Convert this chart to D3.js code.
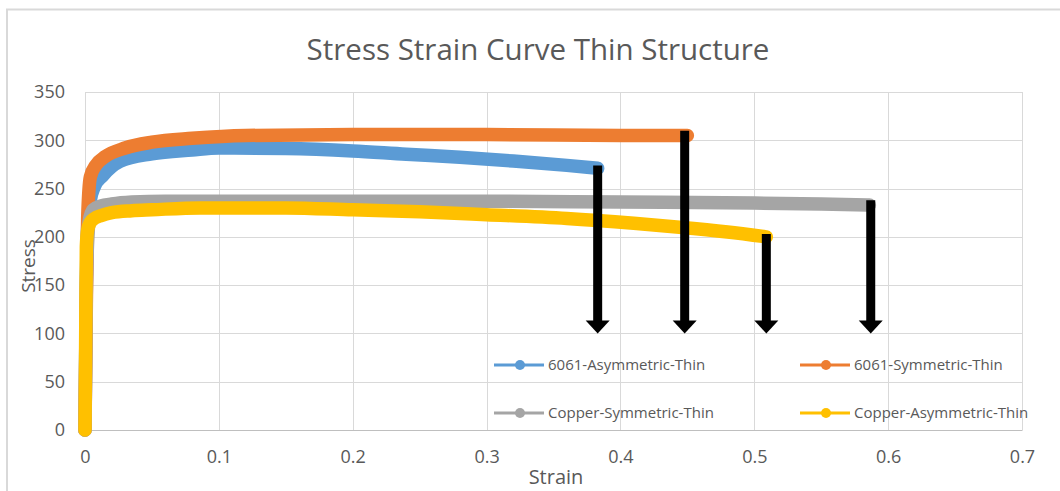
<!DOCTYPE html>
<html>
<head>
<meta charset="utf-8">
<script src="https://cdn.jsdelivr.net/npm/d3@7"></script>
<style>
  body { margin: 0; background: #fff; }
  text { font-family: "Open Sans", sans-serif; fill: #595959; }
</style>
</head>
<body>
<div id="chart"></div>
<script>
// series data
const seriesNames = ["6061-Asymmetric-Thin", "6061-Symmetric-Thin", "Copper-Symmetric-Thin", "Copper-Asymmetric-Thin"];
const seriesColors = ["#5B9BD5", "#ED7D31", "#A5A5A5", "#FFC000"];

const strainBlue = [0, 0.001, 0.002, 0.004, 0.007, 0.013, 0.026, 0.05, 0.08, 0.1, 0.15, 0.2, 0.24, 0.28, 0.32, 0.36, 0.383];
const stressBlue = [0, 150, 210, 238, 252, 263, 278, 286, 290, 292, 291.5, 289, 285.5, 282.5, 278.5, 274, 271];

const strainOrange = [0, 0.001, 0.002, 0.004, 0.008, 0.015, 0.03, 0.05, 0.08, 0.12, 0.2, 0.3, 0.4, 0.45];
const stressOrange = [0, 130, 220, 262, 274, 283, 292, 298, 302, 305, 306, 306, 305, 305];

const strainGray = [0, 0.001, 0.003, 0.006, 0.012, 0.02, 0.035, 0.06, 0.1, 0.2, 0.3, 0.4, 0.5, 0.55, 0.586];
const stressGray = [0, 150, 215, 228, 232, 234, 236, 237, 237, 237, 237, 236, 235, 234, 233];

const strainYellow = [0, 0.001, 0.002, 0.004, 0.007, 0.012, 0.02, 0.035, 0.05, 0.086, 0.15, 0.2, 0.25, 0.3, 0.36, 0.41, 0.444, 0.48, 0.509];
const stressYellow = [0, 190, 207, 215, 219, 222, 225, 227, 228, 230, 230, 228, 226, 223, 219, 214, 210, 205, 200];

// fracture arrows
const arrowStrain = [0.383, 0.448, 0.509, 0.587];
const arrowFrom = [274, 310, 203, 238];
const arrowTo = [100, 100, 100, 100];

const xTicks = [0, 0.1, 0.2, 0.3, 0.4, 0.5, 0.6, 0.7];
const yTicks = [0, 50, 100, 150, 200, 250, 300, 350];

const width = 1060, height = 491;
const plot = {left: 85, right: 1022, top: 92, bottom: 430};

const svg = d3.select("#chart").append("svg")
    .attr("width", width)
    .attr("height", height);

// chart frame
svg.append("rect")
    .attr("x", 7).attr("y", 9.5)
    .attr("width", 1100).attr("height", 1000)
    .attr("fill", "none")
    .attr("stroke", "#d9d9d9")
    .attr("stroke-width", 2);

const xScale = d3.scaleLinear().domain([0, 0.7]).range([plot.left, plot.right]);
const yScale = d3.scaleLinear().domain([0, 350]).range([plot.bottom, plot.top]);

// gridlines
svg.append("g")
    .selectAll("line")
    .data(yTicks.slice(1))
    .enter().append("line")
    .attr("x1", plot.left).attr("x2", plot.right)
    .attr("y1", d => Math.round(yScale(d)) + 0.5)
    .attr("y2", d => Math.round(yScale(d)) + 0.5)
    .attr("stroke", "#d9d9d9");

svg.append("g")
    .selectAll("line")
    .data(xTicks)
    .enter().append("line")
    .attr("y1", plot.top).attr("y2", plot.bottom)
    .attr("x1", d => Math.round(xScale(d)) + 0.5)
    .attr("x2", d => Math.round(xScale(d)) + 0.5)
    .attr("stroke", "#d9d9d9");

// axes
const xAxis = d3.axisBottom(xScale).tickValues(xTicks).tickSize(0).tickPadding(20).tickFormat(d => d);
const yAxis = d3.axisLeft(yScale).tickValues(yTicks).tickSize(0).tickPadding(20);

svg.append("g")
    .attr("transform", `translate(0,${plot.bottom})`)
    .call(xAxis)
    .call(g => g.select(".domain").attr("stroke", "#bfbfbf"))
    .call(g => g.selectAll("text").attr("fill", "#595959").style("font-size", "18px").attr("font-family", null));

svg.append("g")
    .attr("transform", `translate(${plot.left},0)`)
    .call(yAxis)
    .call(g => g.select(".domain").remove())
    .call(g => g.selectAll("text").attr("fill", "#595959").style("font-size", "18px").attr("font-family", null));

// titles
svg.append("text")
    .attr("x", 538)
    .attr("y", 60)
    .attr("text-anchor", "middle")
    .style("font-size", "29.5px")
    .text("Stress Strain Curve Thin Structure");

svg.append("text")
    .attr("x", 556)
    .attr("y", 484)
    .attr("text-anchor", "middle")
    .style("font-size", "20px")
    .text("Strain");

svg.append("text")
    .attr("transform", "translate(35,266) rotate(-90)")
    .attr("text-anchor", "middle")
    .style("font-size", "19px")
    .text("Stress");

// curves
const allSeries = [
    {strain: strainBlue, stress: stressBlue},
    {strain: strainOrange, stress: stressOrange},
    {strain: strainGray, stress: stressGray},
    {strain: strainYellow, stress: stressYellow}
];

const line = d3.line()
    .x(d => xScale(d[0]))
    .y(d => yScale(d[1]))
    .curve(d3.curveMonotoneX);

allSeries.forEach((s, i) => {
    svg.append("path")
        .datum(s.strain.map((x, j) => [x, s.stress[j]]))
        .attr("d", line)
        .attr("fill", "none")
        .attr("stroke", seriesColors[i])
        .attr("stroke-width", 13.5)
        .attr("stroke-linecap", "round")
        .attr("stroke-linejoin", "round");
});

// legend (sits inside plot area)
const legendX = [494, 800];
const legendY = [365, 413];

seriesNames.forEach((name, i) => {
    const lx = legendX[i % 2];
    const ly = legendY[Math.floor(i / 2)];
    const g = svg.append("g").attr("transform", `translate(${lx},${ly})`);
    g.append("line")
        .attr("x1", 0).attr("x2", 50)
        .attr("stroke", seriesColors[i])
        .attr("stroke-width", 3);
    g.append("circle")
        .attr("cx", 26).attr("r", 5)
        .attr("fill", seriesColors[i]);
    g.append("text")
        .attr("x", 54).attr("y", 5)
        .style("font-size", "15px")
        .text(name);
});

// arrows
arrowStrain.forEach((s, i) => {
    const ax = xScale(s);
    const tip = yScale(arrowTo[i]);
    svg.append("line")
        .attr("x1", ax).attr("x2", ax)
        .attr("y1", yScale(arrowFrom[i]))
        .attr("y2", tip - 10)
        .attr("stroke", "#000")
        .attr("stroke-width", 9);
    svg.append("path")
        .attr("d", `M${ax - 12},${tip - 13} L${ax + 12},${tip - 13} L${ax},${tip} Z`)
        .attr("fill", "#000");
});
</script>
</body>
</html>
